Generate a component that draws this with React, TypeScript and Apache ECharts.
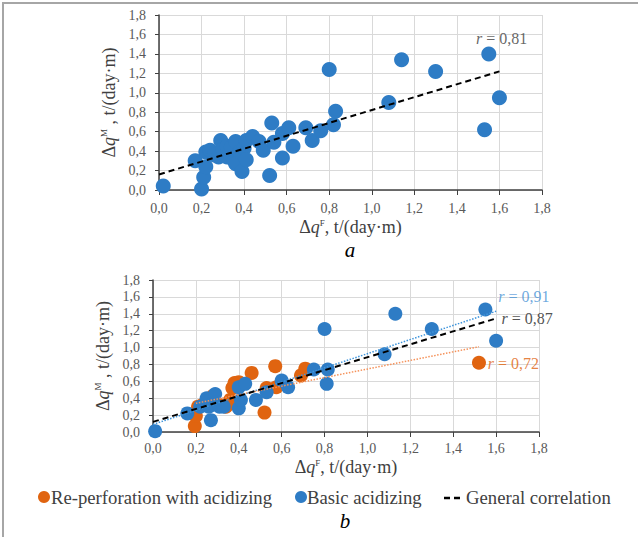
import React, { useEffect, useRef } from "react";
import * as echarts from "echarts";

// ---- data ----
const topPoints: number[][] = [
  [0.02, 0.04], [0.17, 0.30], [0.20, 0.01], [0.21, 0.13], [0.22, 0.24], [0.22, 0.39], [0.24, 0.41],
  [0.26, 0.36], [0.28, 0.34], [0.29, 0.51], [0.30, 0.42], [0.32, 0.45], [0.32, 0.34], [0.34, 0.44],
  [0.35, 0.31], [0.36, 0.27], [0.36, 0.50], [0.38, 0.39], [0.39, 0.19], [0.40, 0.43], [0.41, 0.31],
  [0.41, 0.51], [0.44, 0.55], [0.47, 0.50], [0.49, 0.41], [0.52, 0.15], [0.53, 0.69], [0.54, 0.49],
  [0.58, 0.33], [0.58, 0.58], [0.61, 0.64], [0.63, 0.45], [0.69, 0.64], [0.72, 0.51], [0.76, 0.61],
  [0.80, 1.24], [0.82, 0.67], [0.83, 0.81], [1.08, 0.90], [1.14, 1.34], [1.30, 1.22], [1.53, 0.62],
  [1.55, 1.40], [1.60, 0.95],
];
const bottomOrange: number[][] = [
  [0.195, 0.07], [0.20, 0.19], [0.21, 0.30], [0.23, 0.32], [0.28, 0.43], [0.31, 0.32], [0.34, 0.30],
  [0.36, 0.38], [0.37, 0.52], [0.38, 0.58], [0.40, 0.59], [0.46, 0.70], [0.52, 0.23], [0.53, 0.52],
  [0.57, 0.78], [0.575, 0.53], [0.69, 0.67], [0.71, 0.75], [1.52, 0.82],
];
const bottomBlue: number[][] = [
  [0.01, 0.01], [0.16, 0.22], [0.22, 0.30], [0.25, 0.40], [0.26, 0.30], [0.27, 0.14], [0.27, 0.32],
  [0.29, 0.45], [0.31, 0.30], [0.33, 0.30], [0.40, 0.28], [0.40, 0.53], [0.41, 0.38], [0.43, 0.57],
  [0.48, 0.38], [0.53, 0.47], [0.60, 0.61], [0.63, 0.53], [0.75, 0.74], [0.80, 1.22], [0.815, 0.74],
  [0.81, 0.57], [1.08, 0.92], [1.13, 1.40], [1.30, 1.22], [1.55, 1.45], [1.60, 1.08],
];
// trend lines: [start, end]
const topFit: number[][] = [[0.0, 0.16], [1.6, 1.22]];
const bottomGeneralFit: number[][] = [[0.0, 0.12], [1.6, 1.345]];
const bottomBlueFit: number[][] = [[0.0, 0.09], [1.6, 1.43]];
const bottomOrangeFit: number[][] = [[0.2, 0.34], [1.52, 1.01]];
// correlation labels
const rTop = "0,81";
const rBlue = "0,91";
const rGeneral = "0,87";
const rOrange = "0,72";
const rTopPos = [1.61, 1.56];
const rBluePos = [1.73, 1.61];
const rGeneralPos = [1.745, 1.34];
const rOrangePos = [1.68, 0.815];
const legendNames = ["Re-perforation with acidizing", "Basic acidizing", "General correlation"];

const BLUE = "#2e7cc5";
const ORANGE = "#e06410";
const SERIF = "'Liberation Serif', 'Times New Roman', 'DejaVu Serif', serif";

const fmt = (v: number) => v.toFixed(1).replace(".", ",");

const nameRich = {
  d: { fontSize: 18, fontFamily: SERIF, color: "#404040" },
  q: { fontSize: 18, fontFamily: SERIF, fontStyle: "italic", color: "#404040" },
  s: { fontSize: 9, fontFamily: SERIF, color: "#404040", verticalAlign: "top", padding: [0, 0, 8, 0] },
  n: { fontSize: 18, fontFamily: SERIF, color: "#404040" },
};

function xAxisCfg(gridIndex: number, nameGap: number, margin: number) {
  return {
    type: "value",
    gridIndex,
    min: 0,
    max: 1.8,
    interval: 0.2,
    name: "{d|Δ}{q|q}{s|F}{n|, t/(day·m)}",
    nameLocation: "middle",
    nameGap,
    nameTextStyle: { fontFamily: SERIF, rich: nameRich },
    axisLine: { show: true, onZero: false, lineStyle: { color: "#404040", width: 1.5 } },
    axisTick: { show: true, inside: false, length: 5, lineStyle: { color: "#404040", width: 1 } },
    splitLine: { show: true, lineStyle: { color: "#d9d9d9", width: 1 } },
    axisLabel: { fontFamily: SERIF, fontSize: 14, color: "#595959", margin, formatter: fmt },
  };
}
function yAxisCfg(gridIndex: number, nameGap: number) {
  return {
    type: "value",
    gridIndex,
    min: 0,
    max: 1.8,
    interval: 0.2,
    name: "{d|Δ}{q|q}{s|M}{n| , t/(day·m)}",
    nameLocation: "middle",
    nameRotate: 90,
    nameGap,
    nameTextStyle: { fontFamily: SERIF, rich: nameRich },
    axisLine: { show: true, onZero: false, lineStyle: { color: "#404040", width: 1.5 } },
    axisTick: { show: true, inside: false, length: 4, lineStyle: { color: "#404040", width: 1 } },
    splitLine: { show: true, lineStyle: { color: "#d9d9d9", width: 1 } },
    axisLabel: { fontFamily: SERIF, fontSize: 14, color: "#595959", margin: 13, formatter: fmt },
  };
}

function scatter(data: number[][], color: string, idx: number, size: number) {
  return {
    type: "scatter",
    xAxisIndex: idx,
    yAxisIndex: idx,
    data,
    symbol: "circle",
    symbolSize: size,
    itemStyle: { color, opacity: 1 },
    z: 3,
  };
}
function fitLine(data: number[][], color: string, idx: number, type: any, width: number) {
  return {
    type: "line",
    xAxisIndex: idx,
    yAxisIndex: idx,
    data,
    showSymbol: false,
    symbol: "none",
    lineStyle: { color, type, width },
    z: 4,
  };
}
function rLabel(pos: number[], value: string, color: string, idx: number) {
  return {
    type: "scatter",
    xAxisIndex: idx,
    yAxisIndex: idx,
    data: [pos],
    symbolSize: 2,
    itemStyle: { color: "rgba(0,0,0,0)" },
    silent: true,
    z: 5,
    label: {
      show: true,
      position: "inside",
      formatter: "{i|r}{n| = " + value + "}",
      color,
      rich: {
        i: { fontFamily: SERIF, fontSize: 16, fontStyle: "italic", color },
        n: { fontFamily: SERIF, fontSize: 16, color },
      },
    },
  };
}

const legendFont = "18.7px 'Liberation Serif', 'Times New Roman', serif";

export default function App() {
  const ref = useRef<HTMLDivElement>(null);
  useEffect(() => {
    if (!ref.current) return;
    const chart = echarts.init(ref.current, undefined, { renderer: "svg" });
    const legendY = 497;
    chart.setOption({
      animation: false,
      backgroundColor: "#ffffff",
      textStyle: { fontFamily: SERIF },
      grid: [
        { left: 159, top: 15, width: 383, height: 175 },
        { left: 153, top: 280, width: 386, height: 152 },
      ],
      xAxis: [xAxisCfg(0, 28, 11), xAxisCfg(1, 26, 9)],
      yAxis: [yAxisCfg(0, 38), yAxisCfg(1, 39)],
      series: [
        scatter(topPoints, BLUE, 0, 15),
        fitLine(topFit, "#000000", 0, [6, 4], 2),
        rLabel(rTopPos, rTop, "#404040", 0),
        scatter(bottomOrange, ORANGE, 1, 14),
        scatter(bottomBlue, BLUE, 1, 14),
        fitLine(bottomBlueFit, "#3f95dc", 1, "dotted", 1.5),
        fitLine(bottomOrangeFit, "#f5925a", 1, "dotted", 1.5),
        fitLine(bottomGeneralFit, "#000000", 1, [6, 4], 2),
        rLabel(rBluePos, rBlue, "#4a93d6", 1),
        rLabel(rGeneralPos, rGeneral, "#262626", 1),
        rLabel(rOrangePos, rOrange, ORANGE, 1),
      ],
      graphic: [
        {
          type: "rect",
          shape: { x: 3, y: 3, width: 700, height: 600 },
          style: { fill: "none", stroke: "#a6a6a6", lineWidth: 2 },
          silent: true,
        },
        {
          type: "text",
          x: 350,
          y: 250,
          style: { text: "a", font: "italic 21px 'Liberation Serif', 'Times New Roman', serif", fill: "#000", align: "center", verticalAlign: "middle" },
        },
        {
          type: "text",
          x: 345,
          y: 521,
          style: { text: "b", font: "italic 21px 'Liberation Serif', 'Times New Roman', serif", fill: "#000", align: "center", verticalAlign: "middle" },
        },
        { type: "circle", shape: { cx: 44, cy: legendY, r: 6 }, style: { fill: ORANGE } },
        {
          type: "text",
          x: 51,
          y: legendY,
          style: { text: legendNames[0], font: legendFont, fill: "#404040", verticalAlign: "middle" },
        },
        { type: "circle", shape: { cx: 301, cy: legendY, r: 6 }, style: { fill: BLUE } },
        {
          type: "text",
          x: 307,
          y: legendY,
          style: { text: legendNames[1], font: legendFont, fill: "#404040", verticalAlign: "middle" },
        },
        {
          type: "line",
          shape: { x1: 444, y1: legendY + 1, x2: 460, y2: legendY + 1 },
          style: { stroke: "#000", lineWidth: 2.5, lineDash: [6, 4] },
        },
        {
          type: "text",
          x: 466,
          y: legendY,
          style: { text: legendNames[2], font: legendFont, fill: "#404040", verticalAlign: "middle" },
        },
      ],
    });
    return () => chart.dispose();
  }, []);
  return (
    <div
      ref={ref}
      style={{ position: "fixed", left: 0, top: 0, width: 638, height: 537, background: "#fff" }}
    />
  );
}
